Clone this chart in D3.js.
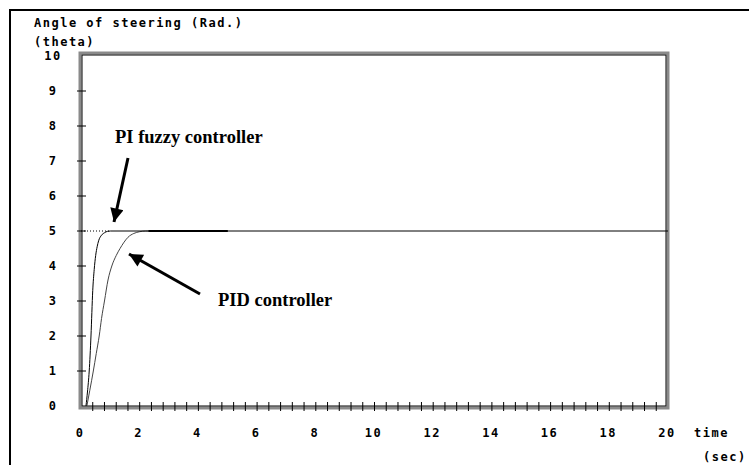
<!DOCTYPE html>
<html>
<head>
<meta charset="utf-8">
<script src="https://cdn.jsdelivr.net/npm/d3@7"></script>
<style>
  body { margin: 0; background: #fff; }
  .pix { font-family: "DejaVu Sans Mono", monospace; font-weight: bold; font-size: 12px; letter-spacing: 1.5px; fill: #000; }
  .note { font-family: "Liberation Serif", "Times New Roman", serif; font-weight: bold; font-size: 18.5px; fill: #000; }
</style>
</head>
<body>
<svg id="chart" width="749" height="465"></svg>
<script>
var width = 749, height = 465;

// data
var xTicks = [0, 2, 4, 6, 8, 10, 12, 14, 16, 18, 20];
var yTicks = [0, 1, 2, 3, 4, 5, 6, 7, 8, 9, 10];
var minorX = d3.range(1, 50).map(function(i){ return i * 0.4; });
var fuzzyT = [0.17, 0.22, 0.28, 0.34, 0.40, 0.45, 0.50, 0.55, 0.60, 0.70, 0.80, 0.90, 1.00, 20];
var fuzzyV = [0, 0.4, 1.0, 2.0, 3.3, 3.9, 4.3, 4.55, 4.72, 4.88, 4.95, 4.99, 5.0, 5.0];
var pidT = [0.20, 0.30, 0.42, 0.52, 0.62, 0.70, 0.80, 0.92, 1.05, 1.20, 1.33, 1.45, 1.60, 1.80, 2.00, 2.20, 5.0];
var pidV = [0, 0.45, 1.0, 1.5, 2.0, 2.5, 3.0, 3.6, 4.0, 4.3, 4.5, 4.66, 4.82, 4.93, 4.98, 5.0, 5.0];
var setpoint = 5, dottedEnd = 1.0, holdStart = 2.3, holdEnd = 5.0;

var svg = d3.select("#chart");
var x = d3.scaleLinear().domain([0, 20]).range([81, 668]);
var y = d3.scaleLinear().domain([0, 10]).range([406, 56]);

// outer border (top and left)
svg.append("path").attr("d", "M10,465 L10,10 L749,10")
  .attr("fill", "none").attr("stroke", "#000").attr("stroke-width", 2);

// plot frame: grey band with black inner line
var fx0 = 80, fy0 = 53, fx1 = 668, fy1 = 408;
svg.append("rect").attr("x", fx0).attr("y", fy0).attr("width", fx1 - fx0).attr("height", fy1 - fy0)
  .attr("fill", "none").attr("stroke", "#8a8a8a").attr("stroke-width", 3);
svg.append("rect").attr("x", fx0 + 2).attr("y", fy0 + 2).attr("width", fx1 - fx0 - 4).attr("height", fy1 - fy0 - 4)
  .attr("fill", "none").attr("stroke", "#000").attr("stroke-width", 1);

// ticks
svg.append("g").selectAll("line").data(minorX).enter().append("line")
  .attr("x1", function(d){ return x(d); }).attr("x2", function(d){ return x(d); })
  .attr("y1", 402).attr("y2", 411).attr("stroke", "#000");
svg.append("g").selectAll("line").data(yTicks.slice(1, 10)).enter().append("line")
  .attr("x1", 77).attr("x2", 86)
  .attr("y1", function(d){ return y(d); }).attr("y2", function(d){ return y(d); })
  .attr("stroke", "#000");

// tick labels
svg.append("g").selectAll("text").data(xTicks).enter().append("text")
  .attr("class", "pix").attr("text-anchor", "middle")
  .attr("x", function(d){ return x(d) - 1; }).attr("y", 437)
  .text(function(d){ return d; });
svg.append("g").selectAll("text").data(yTicks).enter().append("text")
  .attr("class", "pix").attr("text-anchor", "middle")
  .attr("x", 53).attr("y", function(d){ return y(d) + 4; })
  .text(function(d){ return d; });

svg.append("text").attr("class", "pix").attr("x", 34).attr("y", 27).text("Angle of steering (Rad.)");
svg.append("text").attr("class", "pix").attr("x", 34).attr("y", 46).text("(theta)");
svg.append("text").attr("class", "pix").attr("x", 694).attr("y", 437).text("time");
svg.append("text").attr("class", "pix").attr("x", 703).attr("y", 461).text("(sec)");

// curves
var line = d3.line().x(function(d){ return x(d[0]); }).y(function(d){ return y(d[1]); }).curve(d3.curveMonotoneX);

svg.append("line").attr("x1", x(0)).attr("x2", x(dottedEnd))
  .attr("y1", y(setpoint)).attr("y2", y(setpoint))
  .attr("stroke", "#000").attr("stroke-dasharray", "1,2");

svg.append("path").datum(d3.zip(pidT, pidV)).attr("d", line)
  .attr("fill", "none").attr("stroke", "#444").attr("stroke-width", 1);
svg.append("path").datum(d3.zip(fuzzyT, fuzzyV)).attr("d", line)
  .attr("fill", "none").attr("stroke", "#000").attr("stroke-width", 1);
svg.append("line").attr("x1", x(holdStart)).attr("x2", x(holdEnd))
  .attr("y1", y(setpoint)).attr("y2", y(setpoint))
  .attr("stroke", "#000").attr("stroke-width", 2);

// annotations
var defs = svg.append("defs");
defs.append("marker").attr("id", "head").attr("viewBox", "0 0 10 10")
  .attr("refX", 10).attr("refY", 5).attr("markerWidth", 5).attr("markerHeight", 4.5)
  .attr("orient", "auto").attr("markerUnits", "strokeWidth")
  .append("path").attr("d", "M0,0 L10,5 L0,10 Z").attr("fill", "#000");

svg.append("text").attr("class", "note").attr("x", 115).attr("y", 143).text("PI fuzzy controller");
svg.append("line").attr("x1", 128).attr("y1", 158).attr("x2", 114).attr("y2", 222)
  .attr("stroke", "#000").attr("stroke-width", 3).attr("marker-end", "url(#head)");

svg.append("text").attr("class", "note").attr("x", 218).attr("y", 306).text("PID controller");
svg.append("line").attr("x1", 200).attr("y1", 294).attr("x2", 129).attr("y2", 254)
  .attr("stroke", "#000").attr("stroke-width", 3).attr("marker-end", "url(#head)");
</script>
</body>
</html>
